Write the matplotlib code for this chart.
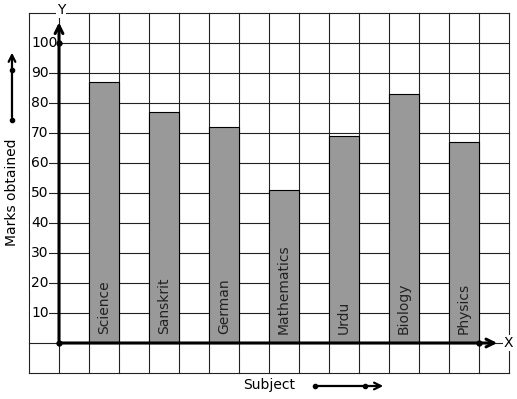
import matplotlib.pyplot as plt

# data
subjects = ["Science", "Sanskrit", "German", "Mathematics", "Urdu", "Biology", "Physics"]
marks = [87, 77, 72, 51, 69, 83, 67]
y_ticks = [10, 20, 30, 40, 50, 60, 70, 80, 90, 100]

fig = plt.figure(figsize=(5.17, 3.99), dpi=100)
ax = fig.add_axes([0, 0, 1, 1])
# one grid cell = 1 unit across, 10 marks up
ax.set_xlim(-59 / 30, (517 - 59) / 30)
ax.set_ylim(-(399 - 343) / 3, 343 / 3)
ax.axis("off")

# graph paper
for u in range(-1, 16):
    ax.plot([u, u], [-10, 110], color="#222222", lw=0.8, zorder=1)
for v in range(-10, 111, 10):
    ax.plot([-1, 15], [v, v], color="#222222", lw=0.8, zorder=1)

# bars, one every second cell
xs = [1.5 + 2 * i for i in range(len(subjects))]
ax.bar(xs, marks, width=1, color="#999999", edgecolor="black", lw=0.8, zorder=2)
for x, name in zip(xs, subjects):
    ax.text(x, 3, name, rotation=90, ha="center", va="bottom",
            fontsize=10, color="#222222", zorder=3)

# axes with open arrow heads
ax.annotate("", xy=(0, 107.8), xytext=(0, 0),
            arrowprops=dict(arrowstyle="->", lw=2.2, color="black", mutation_scale=14), zorder=4)
ax.annotate("", xy=(14.7, 0), xytext=(0, 0),
            arrowprops=dict(arrowstyle="->", lw=2.2, color="black", mutation_scale=14), zorder=4)
ax.plot([0, 0, 14], [0, 100, 0], "o", color="black", ms=3.5, zorder=5)

for t in y_ticks:
    ax.text(-0.93, t, str(t), ha="left", va="center", fontsize=10, zorder=3,
            bbox=dict(facecolor="white", edgecolor="none", pad=0.5))
ax.text(0.07, 111, "Y", ha="center", va="center", fontsize=10, zorder=3,
        bbox=dict(facecolor="white", edgecolor="none", pad=0.5))
ax.text(14.97, 0, "X", ha="center", va="center", fontsize=10, zorder=3,
        bbox=dict(facecolor="white", edgecolor="none", pad=0.5))

# axis titles with their small arrows
ax.text(-1.57, -(192 - 343) / 3, "Marks obtained", rotation=90,
        ha="center", va="center", fontsize=10)
ax.annotate("", xy=(-1.567, 97.7), xytext=(-1.567, 74.3),
            arrowprops=dict(arrowstyle="->", lw=1.6, color="black", mutation_scale=12))
ax.plot([-1.567, -1.567], [74.3, 91], "o", color="black", ms=3)

ax.text(7.0, -14.0, "Subject", ha="center", va="center", fontsize=10)
ax.annotate("", xy=(10.9, -14.33), xytext=(8.53, -14.33),
            arrowprops=dict(arrowstyle="->", lw=1.6, color="black", mutation_scale=12))
ax.plot([8.53, 10.2], [-14.33, -14.33], "o", color="black", ms=3)

fig.savefig("out.png", dpi=100, facecolor="white")
plt.close()
